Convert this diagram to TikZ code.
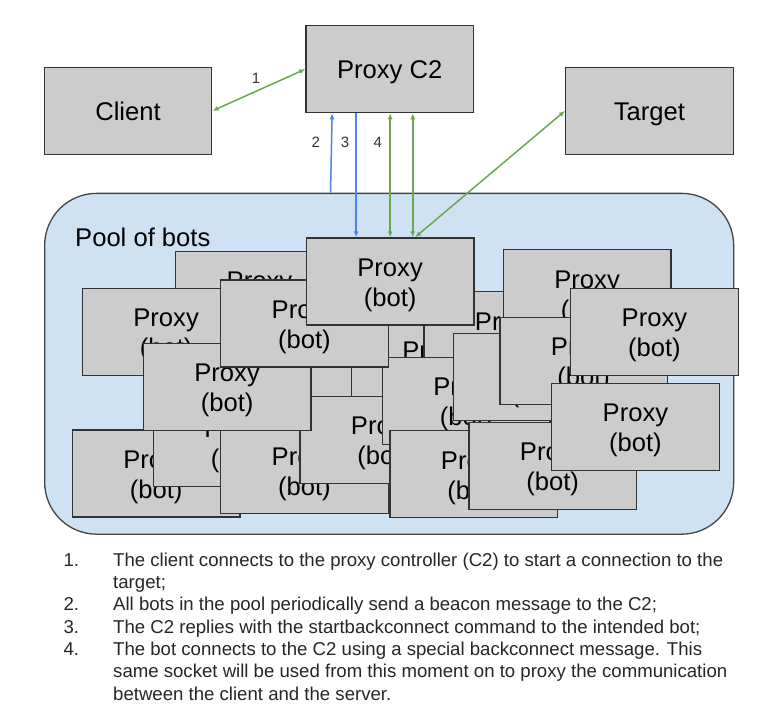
\documentclass[tikz,border=0pt]{standalone}
\usepackage{fontspec}
\setmainfont{Liberation Sans}
\usetikzlibrary{arrows.meta,positioning}

\definecolor{boxgray}{HTML}{CCCCCC}
\definecolor{boxline}{HTML}{333333}
\definecolor{poolblue}{HTML}{CFE2F3}
\definecolor{poolline}{HTML}{444444}
\definecolor{arrgreen}{HTML}{6AA84F}
\definecolor{arrblue}{HTML}{4A86E8}

\newcommand{\botlabel}{\rule{0pt}{25pt}Proxy\\(bot)}

\tikzset{
  box/.style={draw=boxline, fill=boxgray, line width=1.3pt, inner sep=0pt,
    minimum width=167.5pt, minimum height=87pt, anchor=north west,
    align=center, font=\fontsize{25.6}{30}\selectfont},
  endpoint/.style={box, text height=18.3pt, text depth=0pt},
  greenarr/.style={draw=arrgreen, line width=1.5pt,
    {Latex[length=6pt,width=5pt]}-{Latex[length=6pt,width=5pt]}},
  bluearr/.style={draw=arrblue, line width=1.5pt, -{Latex[length=6pt,width=5pt]}},
  num/.style={font=\fontsize{15}{15}\selectfont, text=black!80, inner sep=0pt},
  listline/.style={anchor=base west, inner sep=0pt,
    font=\fontsize{18.6}{22}\selectfont, text=black!85}
}

\begin{document}
\begin{tikzpicture}[x=1pt,y=-1pt]
    \useasboundingbox (0,0) rectangle (781,721);
    \fill[white] (0,0) rectangle (781,721);
    % controller, client and target
    \node[endpoint] (c2) at (305.3,25) {Proxy C2};
    \node[endpoint] (client) at (43.6,66.7) {Client};
    \node[endpoint] (target) at (565,66.7) {Target};
    % pool
    \node[draw=poolline, fill=poolblue, line width=1.3pt, rounded corners=52pt,
      minimum width=689pt, minimum height=340.8pt, inner sep=0pt,
      anchor=north west] (pool) at (44,192.7) {};
    \node[anchor=base west, inner sep=0pt, font=\fontsize{25.6}{30}\selectfont]
      (poollabel) at (75,246) {Pool of bots};
    % bots, from back to front
    \foreach \name/\x/\y in {A/175/250.7, W/183.2/330, B/81.7/287.7,
      F/71.7/429.3, G/152.7/398.7, H/220/426, K/350.7/320, I/299.3/395.7,
      E/142.7/342.7, P/423.3/291, J/381.7/356.7, D/220/279.3, C/305.7/237.3,
      N/502.7/249, Q/452.7/333, R/499.3/316.7, V/389.3/430, U/468.3/421.7,
      S/570/287.7, T/551/382.7}
      \node[box] (bot\name) at (\x,\y) {\botlabel};
    % connections
    \coordinate (beacon) at (330.5,192.7);
    \draw[greenarr] (client.east) -- (c2.west);
    \draw[bluearr] (beacon) -- ([xshift=26.85pt]c2.south west);
    \draw[bluearr] ([xshift=50.85pt]c2.south west)
      -- ([xshift=50.85pt]c2.south west |- botC.north);
    \draw[greenarr] ([xshift=84.85pt]c2.south west)
      -- ([xshift=84.85pt]c2.south west |- botC.north);
    \draw[greenarr] ([xshift=107.5pt]c2.south west)
      -- ([xshift=107.5pt]c2.south west |- botC.north);
    \draw[greenarr] (target.west) -- ([xshift=109.3pt]botC.north west);
    % step numbers
    \node[num] (s1) at (256,78) {1};
    \node[num] (s2) at (315.7,142.3) {2};
    \node[num] (s3) at (345,142.3) {3};
    \node[num] (s4) at (377.7,142.3) {4};
    % list of steps
    \foreach \y/\n in {566/1., 610.6/2., 633/3., 655.3/4.}
      \node[listline] (n\n) at (63.3,\y) {\n};
    \node[listline] (t1) at (113,566) {The client connects to the proxy controller (C2) to start a connection to the};
    \node[listline] (t2) at (113,588.3) {target;};
    \node[listline] (t3) at (113,610.6) {All bots in the pool periodically send a beacon message to the C2;};
    \node[listline] (t4) at (113,633) {The C2 replies with the startbackconnect command to the intended bot;};
    \node[listline] (t5) at (113,655.3) {The bot connects to the C2 using a special backconnect message. This};
    \node[listline] (t6) at (113,677.6) {same socket will be used from this moment on to proxy the communication};
    \node[listline] (t7) at (113,700) {between the client and the server.};
\end{tikzpicture}
\end{document}
